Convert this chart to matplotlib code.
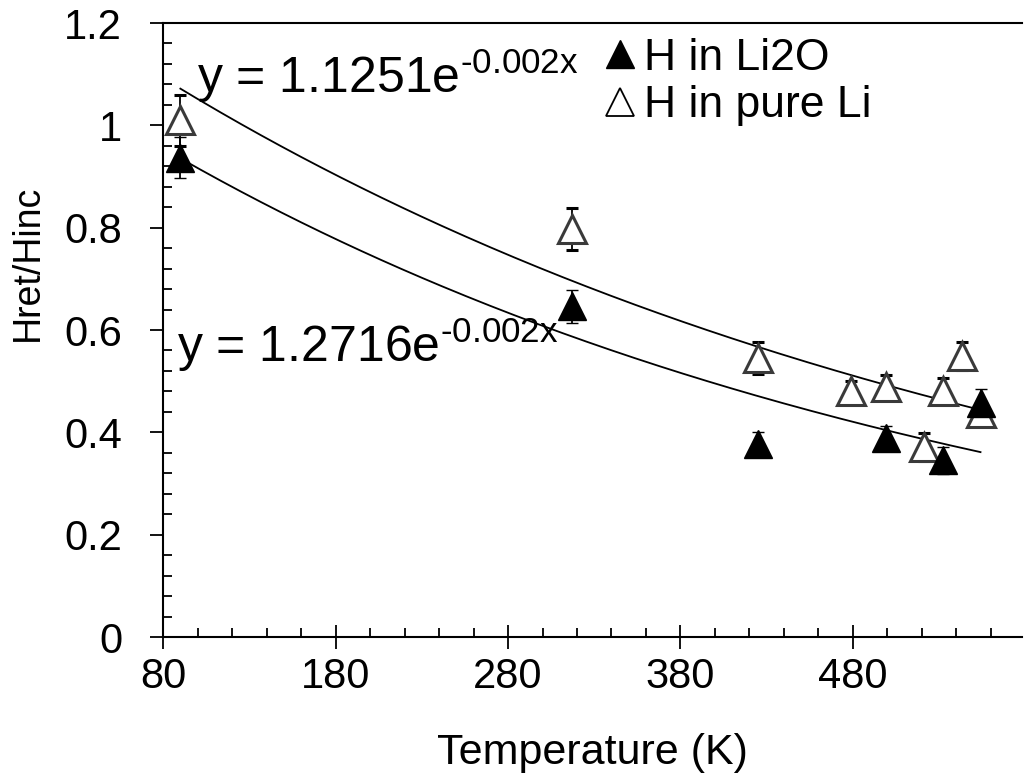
import matplotlib
matplotlib.use("Agg")
import matplotlib.pyplot as plt
from matplotlib.lines import Line2D
from matplotlib.ticker import MultipleLocator
import numpy as np

plt.rcParams['font.family'] = ['Liberation Sans', 'DejaVu Sans']
plt.rcParams['mathtext.fontset'] = 'custom'
plt.rcParams['mathtext.rm'] = 'Liberation Sans'

# H in Li2O (filled triangles)
t_li2o = [90, 317, 425, 499, 532, 554]
h_li2o = [0.937, 0.646, 0.378, 0.388, 0.345, 0.458]
e_li2o = [0.040, 0.032, 0.022, 0.025, 0.026, 0.026]

# H in pure Li (open triangles)
t_li = [90, 317, 425, 479, 499, 521, 532, 543, 554]
h_li = [1.01, 0.797, 0.545, 0.481, 0.488, 0.371, 0.481, 0.549, 0.438]
e_li = [0.050, 0.041, 0.031, 0.020, 0.024, 0.027, 0.026, 0.028, 0.020]

# exponential trendlines y = a*exp(b*x)
fit_li = (1.2716, -0.0019)
fit_li2o = (1.1251, -0.00205)

fig = plt.figure(figsize=(10.26, 7.8), dpi=100)
ax = fig.add_axes([0.159, 0.1833, 0.837, 0.7872])

# trendlines
xs = np.linspace(min(t_li), max(t_li), 200)
ax.plot(xs, fit_li[0] * np.exp(fit_li[1] * xs), color='black', lw=1.3, zorder=2)
xs2 = np.linspace(min(t_li2o), max(t_li2o), 200)
ax.plot(xs2, fit_li2o[0] * np.exp(fit_li2o[1] * xs2), color='black', lw=1.3, zorder=2)

ms = 20
ax.errorbar(t_li, h_li, yerr=e_li, fmt='^', ms=ms, mfc='white', mec='#3a3a3a',
            mew=2.2, ecolor='black', elinewidth=1.3, capsize=4, capthick=1.3, zorder=3)
ax.errorbar(t_li2o, h_li2o, yerr=e_li2o, fmt='^', ms=ms, mfc='black', mec='black',
            mew=1, ecolor='black', elinewidth=1.3, capsize=4, capthick=1.3, zorder=4)

ax.set_xlim(80, 578)
ax.set_ylim(0, 1.2)
ax.xaxis.set_major_locator(MultipleLocator(100, offset=80))
ax.xaxis.set_minor_locator(MultipleLocator(20))
ax.yaxis.set_minor_locator(MultipleLocator(0.04))
ax.set_yticks([0, 0.2, 0.4, 0.6, 0.8, 1.0, 1.2])
ax.set_yticklabels(['0', '0.2', '0.4', '0.6', '0.8', '1', '1.2'])

ax.tick_params(axis='x', which='major', direction='inout', length=17, width=1.3,
               labelsize=30, pad=6)
ax.tick_params(axis='y', which='major', direction='out', length=9.5, width=1.3,
               labelsize=30, pad=20)
ax.tick_params(which='minor', direction='in', length=6.5, width=1.3)
ax.spines['right'].set_visible(False)
for s in ['left', 'bottom', 'top']:
    ax.spines[s].set_linewidth(1.5)

ax.set_xlabel('Temperature (K)', fontsize=31, labelpad=26)
ax.set_ylabel('Hret/Hinc', fontsize=27)
ax.yaxis.set_label_coords(-0.137, 0.61)

ax.text(99.7, 1.063, 'y = 1.1251e$^{\\mathregular{\u20100.002x}}$', fontsize=36,
        va='baseline', ha='left')
ax.text(88, 0.537, 'y = 1.2716e$^{\\mathregular{\u20100.002x}}$', fontsize=36,
        va='baseline', ha='left')

handles = [
    Line2D([], [], ls='none', marker='^', ms=ms, mfc='black', mec='black'),
    Line2D([], [], ls='none', marker='^', ms=ms, mfc='white', mec='black', mew=1.3),
]
ax.legend(handles, ['H in Li2O', 'H in pure Li'], loc='upper left',
          bbox_to_anchor=(0.472, 1.027), frameon=False, fontsize=32,
          handlelength=0.9, handletextpad=0.1, labelspacing=0.15, borderpad=0.2)

fig.savefig('out.png', dpi=100)
